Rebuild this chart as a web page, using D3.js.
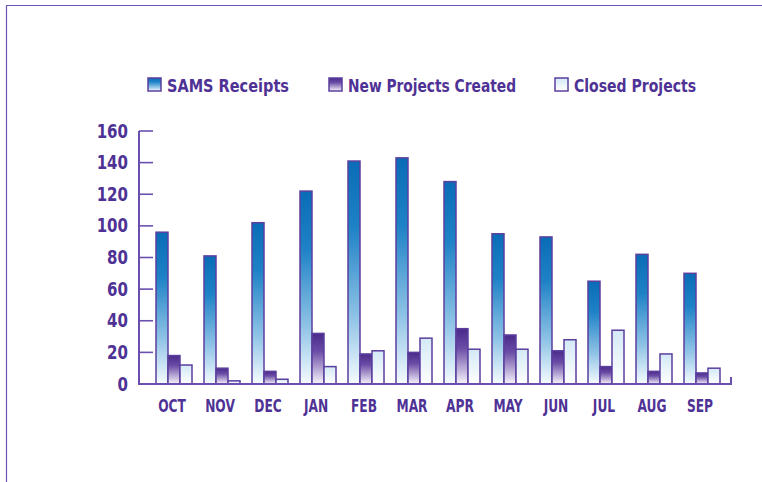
<!DOCTYPE html>
<html>
<head>
<meta charset="utf-8">
<script src="https://cdn.jsdelivr.net/npm/d3@7"></script>
<style>
  html, body { margin: 0; padding: 0; background: #fff; }
  svg { display: block; }
  text { font-family: "DejaVu Sans Condensed", "DejaVu Sans", sans-serif; font-weight: bold; fill: #4f3295; }
</style>
</head>
<body>
<svg id="chart" width="762" height="482"></svg>
<script>
// data
const months = ["OCT", "NOV", "DEC", "JAN", "FEB", "MAR", "APR", "MAY", "JUN", "JUL", "AUG", "SEP"];
const seriesNames = ["SAMS Receipts", "New Projects Created", "Closed Projects"];
const samsReceipts = [96, 81, 102, 122, 141, 143, 128, 95, 93, 65, 82, 70];
const newProjects = [18, 10, 8, 32, 19, 20, 35, 31, 21, 11, 8, 7];
const closedProjects = [12, 2, 3, 11, 21, 29, 22, 22, 28, 34, 19, 10];
const yTicks = [0, 20, 40, 60, 80, 100, 120, 140, 160];

const purple = "#6a4fae";
const svg = d3.select("#chart");

// outer frame (top + left edge)
svg.append("path")
  .attr("d", "M6.5,482V5.5H762")
  .attr("fill", "none")
  .attr("stroke", "#6e55b5")
  .attr("stroke-width", 1.2);

// gradients, one per series
const defs = svg.append("defs");
const gradStops = [
  [[0, "#0a6cb7"], [0.3, "#1f82c6"], [0.7, "#8fc3e6"], [1, "#f5fbfe"]],
  [[0, "#4a2a8a"], [0.35, "#6a4ca6"], [1, "#f7f4fb"]],
  [[0, "#d3e9f7"], [1, "#ffffff"]]
];
gradStops.forEach((stops, i) => {
  const g = defs.append("linearGradient")
    .attr("id", "g" + i)
    .attr("x1", 0).attr("y1", 0).attr("x2", 0).attr("y2", 1);
  stops.forEach(s => g.append("stop").attr("offset", s[0]).attr("stop-color", s[1]));
});

const x0 = d3.scaleBand()
  .domain(months)
  .range([150, 726])
  .paddingInner(0.25)
  .paddingOuter(0.125);

const x1 = d3.scaleBand()
  .domain(d3.range(3))
  .range([0, x0.bandwidth()]);

const y = d3.scaleLinear().domain([0, 160]).range([384, 131]);

const rows = months.map((m, i) => ({
  month: m,
  values: [samsReceipts[i], newProjects[i], closedProjects[i]]
}));

// bars
const groups = svg.selectAll("g.month")
  .data(rows)
  .enter()
  .append("g")
  .attr("class", "month")
  .attr("transform", d => `translate(${x0(d.month)},0)`);

groups.selectAll("rect")
  .data(d => d.values.map((v, k) => ({ k, v })))
  .enter()
  .append("rect")
  .attr("x", d => x1(d.k))
  .attr("y", d => y(d.v))
  .attr("width", x1.bandwidth())
  .attr("height", d => y(0) - y(d.v))
  .attr("fill", d => `url(#g${d.k})`)
  .attr("stroke", "#5b3f9e")
  .attr("stroke-width", 1.5);

// y axis
const yAxis = svg.append("g");
yAxis.append("line")
  .attr("x1", 139).attr("x2", 139)
  .attr("y1", y(160)).attr("y2", y(0))
  .attr("stroke", purple).attr("stroke-width", 2);
yAxis.selectAll("line.tick")
  .data(yTicks.filter(t => t > 0))
  .enter()
  .append("line")
  .attr("class", "tick")
  .attr("x1", 139).attr("x2", 153)
  .attr("y1", d => y(d)).attr("y2", d => y(d))
  .attr("stroke", purple).attr("stroke-width", 1.6);
yAxis.selectAll("g.ylab")
  .data(yTicks)
  .enter()
  .append("g")
  .attr("class", "ylab")
  .attr("transform", d => `translate(128,${y(d) + 6.5}) scale(0.88,1)`)
  .append("text")
  .attr("text-anchor", "end")
  .attr("font-size", 19)
  .text(d => d);

// baseline with end tick
svg.append("path")
  .attr("d", `M138,${y(0)}H731V${y(0) - 7}`)
  .attr("fill", "none")
  .attr("stroke", purple)
  .attr("stroke-width", 2);

// month labels
svg.selectAll("g.mlab")
  .data(months)
  .enter()
  .append("g")
  .attr("class", "mlab")
  .attr("transform", d => `translate(${x0(d) + x0.bandwidth() / 2 - 2},412) scale(0.8,1)`)
  .append("text")
  .attr("text-anchor", "middle")
  .attr("font-size", 17)
  .text(d => d);

// legend
const legendX = [148, 329, 555];
const legendW = [122, 168, 122];
const legend = svg.selectAll("g.legend")
  .data(seriesNames)
  .enter()
  .append("g")
  .attr("class", "legend")
  .attr("transform", (d, i) => `translate(${legendX[i]},78)`);
legend.append("rect")
  .attr("x", 0).attr("y", 0)
  .attr("width", 13).attr("height", 13)
  .attr("fill", (d, i) => `url(#g${i})`)
  .attr("stroke", "#5b3f9e")
  .attr("stroke-width", 1.5);
legend.append("text")
  .attr("x", 19)
  .attr("y", 13.5)
  .attr("font-size", 18)
  .attr("textLength", (d, i) => legendW[i])
  .attr("lengthAdjust", "spacingAndGlyphs")
  .text(d => d);
</script>
</body>
</html>
